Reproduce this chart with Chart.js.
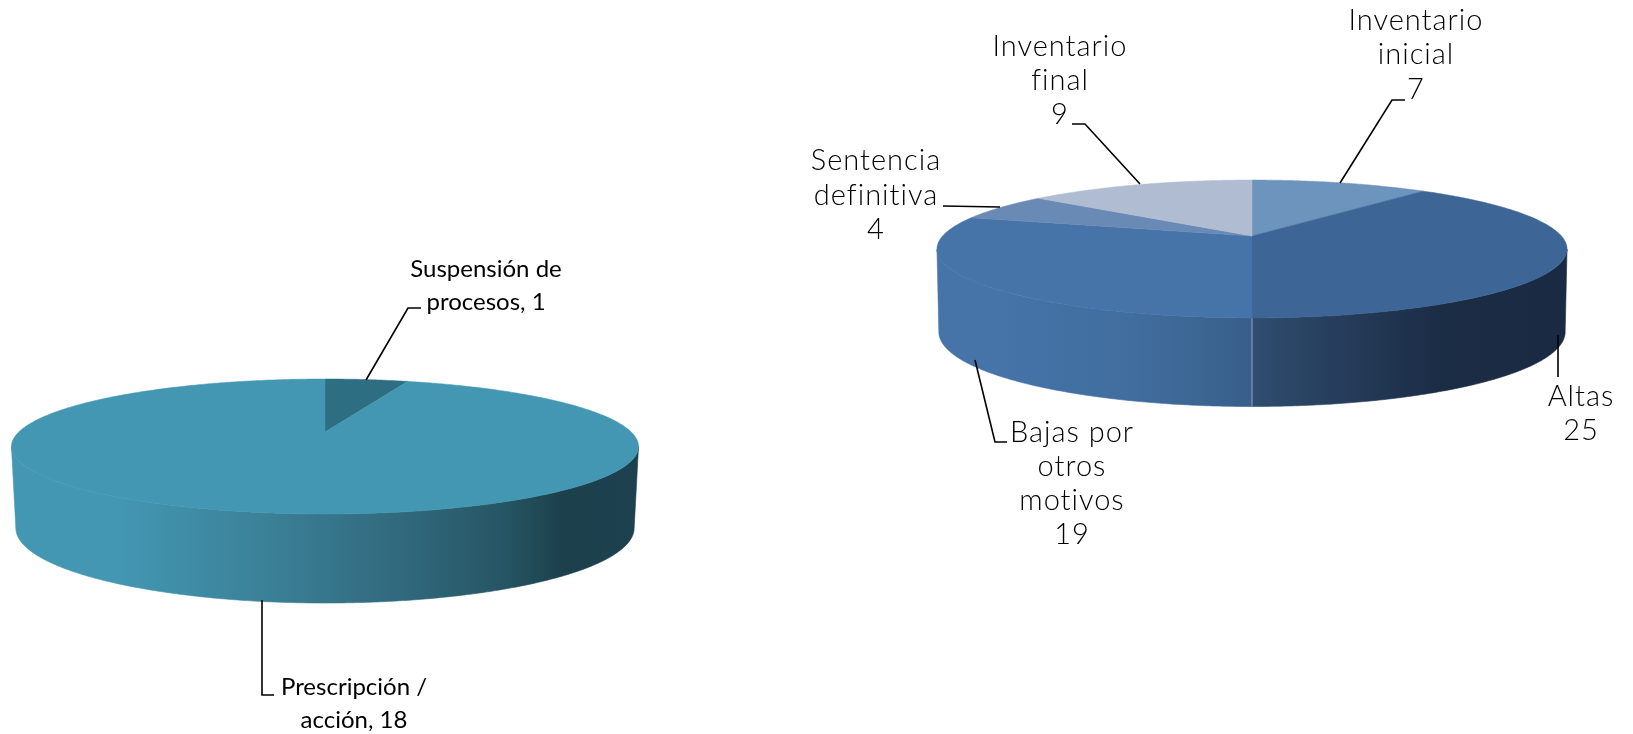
<!DOCTYPE html>
<html lang="es">
<head>
<meta charset="utf-8">
<title>Gráficas de pastel</title>
<script src="https://cdn.jsdelivr.net/npm/chart.js@4/dist/chart.umd.min.js"></script>
<style>
html,body{margin:0;padding:0;background:#fff;width:1633px;height:734px;overflow:hidden}
canvas{position:absolute;top:0}
#a{left:0}
#b{left:720px}
</style>
</head>
<body>
<canvas id="a" width="720" height="734"></canvas>
<canvas id="b" width="913" height="734"></canvas>
<script>
// ---- data ----
const procesosCategories = ['Suspensión de procesos', 'Prescripción / acción'];
const procesosValues = [1, 18];
const inventarioCategories = ['Inventario inicial', 'Altas', 'Bajas por otros motivos', 'Sentencia definitiva', 'Inventario final'];
const inventarioValues = [7, 25, 19, 4, 9];
const procesosColors = ['#2d6e82', '#4397b3'];
const inventarioColors = ['#6d94bd', '#3d6596', '#4673a8', '#6a8ab6', '#b0bcd2'];
const procesosLabelLines = [['Suspensión de', 'procesos, 1'], ['Prescripción /', 'acción, 18']];
const inventarioLabelLines = [['Inventario', 'inicial', '7'], ['Altas', '25'], ['Bajas por', 'otros', 'motivos', '19'], ['Sentencia', 'definitiva', '4'], ['Inventario', 'final', '9']];

// ---- presentation ----
const procesosStyle = {
  originX: 0, xStretch: 1.014, tilt: 0.2132, k: 0.2148,
  wallDrop: 80, wallX: 0.986, wallTilt: 1.11,
  wallStops: [[0, '#4397b3'], [0.17, '#4397b3'], [0.4, '#3b8198'], [0.62, '#31697d'], [0.78, '#265665'], [0.88, '#1c404c'], [1, '#1d414e']],
  seam: null,
  font: '400 24px Lato, sans-serif', spacing: '0px', lineHeight: 33,
  labels: [
    { x: 486, ys: [269, 302] },
    { x: 354, ys: [687, 720] }
  ],
  leaders: [
    [[366, 380], [408, 308], [421, 308]],
    [[262, 600], [262, 695], [274, 695]]
  ]
};
const inventarioStyle = {
  originX: 720, xStretch: 1.311, tilt: 0.2818, k: 0.1884,
  wallDrop: 82, wallX: 0.994, wallTilt: 1.08,
  wallStops: [[0, '#4673a8'], [0.1, '#4673a8'], [0.3, '#416e9f'], [0.499, '#385f8a'], [0.501, '#2f4e70'], [0.62, '#273f5e'], [0.8, '#1b2c45'], [1, '#1a2a42']],
  seam: '#8fa6bf',
  font: '300 29px Lato, sans-serif', spacing: '1px', lineHeight: 34,
  labels: [
    { x: 1416, ys: [21, 55, 90] },
    { x: 1581, ys: [397, 431] },
    { x: 1072, ys: [433, 467, 501, 535] },
    { x: 876, ys: [161, 196, 230] },
    { x: 1060, ys: [47, 81, 115] }
  ],
  leaders: [
    [[1340, 183], [1392, 100], [1405, 100]],
    [[1558, 335], [1558, 377]],
    [[975, 360], [995, 442], [1007, 442]],
    [[943, 206], [1000, 207]],
    [[1072, 124], [1085, 124], [1140, 184]]
  ]
};

function pie3d(style, labelLines) {
  return {
    id: 'pie3d',
    beforeDatasetsDraw(chart) {
      const ctx = chart.ctx;
      const arcs = chart.getDatasetMeta(0).data;
      const k = style.k;
      const cx = arcs[0].x, cy = arcs[0].y, R = arcs[0].outerRadius;
      const top = a => {
        const d = 1 - k * Math.sin(a);
        return [cx + R * style.xStretch * Math.cos(a) / d, cy + R * style.tilt * Math.sin(a) / d];
      };
      const bottom = a => {
        const d = 1 - k * Math.sin(a);
        return [cx + R * style.xStretch * style.wallX * Math.cos(a) / d,
                cy + style.wallDrop + R * style.tilt * style.wallTilt * Math.sin(a) / d];
      };
      const STEP = Math.PI / 180 / 2;
      const sweep = (a0, a1, fn, move) => {
        const n = Math.max(1, Math.ceil(Math.abs(a1 - a0) / STEP));
        for (let i = 0; i <= n; i++) {
          const p = fn(a0 + (a1 - a0) * i / n);
          if (i === 0 && move) ctx.moveTo(p[0], p[1]); else ctx.lineTo(p[0], p[1]);
        }
      };
      // side wall: only the part of each slice facing the viewer
      const f0 = Math.asin(k), f1 = Math.PI - f0;
      const left = top(f1)[0], right = top(f0)[0];
      const grad = ctx.createLinearGradient(left, 0, right, 0);
      style.wallStops.forEach(s => grad.addColorStop(s[0], s[1]));
      arcs.forEach(el => {
        const a0 = Math.max(el.startAngle, f0), a1 = Math.min(el.endAngle, f1);
        if (a1 <= a0) return;
        ctx.beginPath();
        sweep(a0, a1, top, true);
        sweep(a1, a0, bottom, false);
        ctx.closePath();
        ctx.fillStyle = grad;
        ctx.fill();
        ctx.strokeStyle = grad;
        ctx.lineWidth = 0.6;
        ctx.stroke();
      });
      if (style.seam) {
        arcs.forEach(el => {
          if (el.startAngle > f0 && el.startAngle < f1) {
            const p = top(el.startAngle), q = bottom(el.startAngle);
            ctx.beginPath();
            ctx.moveTo(p[0], p[1]);
            ctx.lineTo(q[0], q[1]);
            ctx.strokeStyle = style.seam;
            ctx.lineWidth = 1;
            ctx.stroke();
          }
        });
      }
      // top face
      arcs.forEach(el => {
        ctx.beginPath();
        ctx.moveTo(cx, cy);
        sweep(el.startAngle, el.endAngle, top, false);
        ctx.closePath();
        ctx.fillStyle = el.options.backgroundColor;
        ctx.strokeStyle = el.options.backgroundColor;
        ctx.lineWidth = 0.5;
        ctx.fill();
        ctx.stroke();
      });
      return false;
    },
    afterDraw(chart) {
      const ctx = chart.ctx;
      ctx.save();
      ctx.strokeStyle = '#000';
      ctx.lineWidth = 1.6;
      style.leaders.forEach(pts => {
        ctx.beginPath();
        pts.forEach((p, i) => i ? ctx.lineTo(p[0] - style.originX, p[1]) : ctx.moveTo(p[0] - style.originX, p[1]));
        ctx.stroke();
      });
      ctx.fillStyle = '#000';
      ctx.font = style.font;
      ctx.letterSpacing = style.spacing;
      ctx.textAlign = 'center';
      ctx.textBaseline = 'middle';
      labelLines.forEach((lines, i) => {
        lines.forEach((t, j) => ctx.fillText(t, style.labels[i].x - style.originX, style.labels[i].ys[j]));
      });
      ctx.restore();
    }
  };
}

function makeChart(id, categories, values, colors, padding, style, labelLines) {
  return new Chart(document.getElementById(id), {
    type: 'pie',
    data: { labels: categories, datasets: [{ data: values, backgroundColor: colors, borderWidth: 0 }] },
    options: {
      responsive: false,
      animation: false,
      layout: { padding },
      plugins: { legend: { display: false }, tooltip: { enabled: false } }
    },
    plugins: [pie3d(style, labelLines)]
  });
}

makeChart('a', procesosCategories, procesosValues, procesosColors,
  { left: 0, right: 70, top: 130, bottom: 0 }, procesosStyle, procesosLabelLines);
makeChart('b', inventarioCategories, inventarioValues, inventarioColors,
  { left: 151, right: 0, top: 0, bottom: 262 }, inventarioStyle, inventarioLabelLines);
</script>
</body>
</html>
